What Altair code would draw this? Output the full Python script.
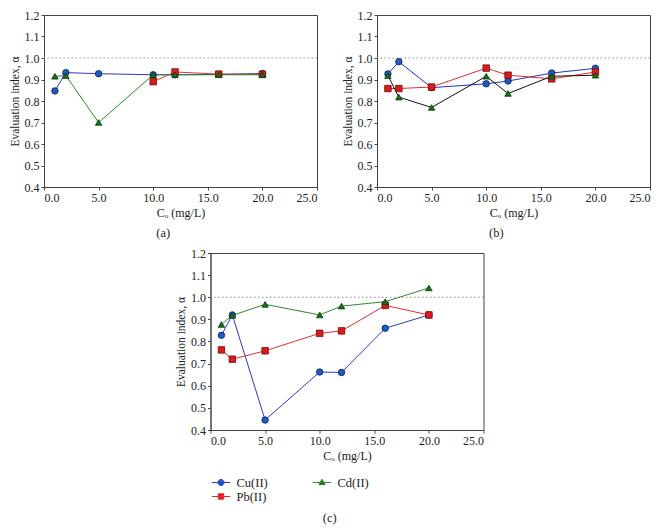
import altair as alt
import pandas as pd

# ---------------- data ----------------
METALS = ["Cu(II)", "Cd(II)", "Pb(II)"]
C0 = [1, 2, 5, 10, 12, 16, 20]
C0_PB_A = [10, 12, 16, 20]

a_cu = [0.847, 0.932, 0.927, 0.922, 0.922, 0.924, 0.928]
a_pb = [0.890, 0.935, 0.925, 0.924]
a_cd = [0.915, 0.918, 0.700, 0.922, 0.922, 0.922, 0.922]

b_cu = [0.926, 0.983, 0.862, 0.880, 0.893, 0.930, 0.952]
b_pb = [0.858, 0.858, 0.865, 0.953, 0.920, 0.903, 0.935]
b_cd = [0.918, 0.818, 0.770, 0.915, 0.835, 0.915, 0.920]

c_cu = [0.828, 0.920, 0.445, 0.662, 0.660, 0.860, 0.920]
c_pb = [0.762, 0.720, 0.758, 0.837, 0.848, 0.963, 0.920]
c_cd = [0.877, 0.918, 0.968, 0.920, 0.960, 0.980, 1.042]

REF = [1.0]
X_TICKS = [0, 5, 10, 15, 20, 25]
Y_TICKS = [0.4, 0.5, 0.6, 0.7, 0.8, 0.9, 1.0, 1.1, 1.2]

# colours in METALS order: Cu, Cd, Pb
LINE_COL = ["#2b3cc4", "#2e8b2e", "#e0302e"]
LINE_COL_B = ["#2233bb", "#111111", "#e0302e"]
FILL_COL = ["#1f5cbf", "#17701a", "#dc1c1c"]
EDGE_COL = ["#0c1f5c", "#0b3a0b", "#6e0a0a"]
SHAPES = ["circle", "triangle-up", "square"]

SERIF = "Liberation Serif"


def make_df(parts):
    rows = []
    for metal, xs, ys in parts:
        for xv, yv in zip(xs, ys):
            rows.append({"metal": metal, "C": xv, "alpha": yv})
    return pd.DataFrame(rows)


# row order Cu, Pb, Cd -> Cd markers drawn on top
df_a = make_df([("Cu(II)", C0, a_cu), ("Pb(II)", C0_PB_A, a_pb), ("Cd(II)", C0, a_cd)])
df_b = make_df([("Cu(II)", C0, b_cu), ("Pb(II)", C0, b_pb), ("Cd(II)", C0, b_cd)])
df_c = make_df([("Cu(II)", C0, c_cu), ("Pb(II)", C0, c_pb), ("Cd(II)", C0, c_cd)])

AX_STYLE = dict(labelFont=SERIF, titleFont=SERIF, labelFontSize=12,
                titleFontWeight="normal", grid=False, domainColor="#444444",
                tickColor="#444444", tickSize=3, labelColor="#222222", titleColor="#222222",
                labelPadding=2)
X_AXIS = alt.Axis(values=X_TICKS, format=".1f", title="Cₒ (mg/L)", titlePadding=4,
                  titleFontSize=12, **AX_STYLE)
Y_AXIS = alt.Axis(values=Y_TICKS, format=".1f", title="Evaluation index, α", titlePadding=4,
                  titleFontSize=11.5, **AX_STYLE)
X_SCALE = alt.Scale(domain=[0, 25], nice=False, zero=False)
Y_SCALE = alt.Scale(domain=[0.4, 1.2], nice=False, zero=False)

LEGEND_PATHS = [
    "M-1.55,0H1.55M0.5,0A0.5,0.5,0,1,1,-0.5,0A0.5,0.5,0,1,1,0.5,0Z",
    "M-1.55,0H1.55M0,-0.55L0.52,0.36H-0.52Z",
    "M-1.55,0H1.55M-0.45,-0.45H0.45V0.45H-0.45Z",
]


def legend_def():
    return alt.Legend(
        title=None, orient="none", direction="horizontal", legendX=4, legendY=223,
        columns=2, columnPadding=42, rowPadding=1, symbolSize=144, symbolStrokeWidth=1,
        symbolOpacity=1, labelFont=SERIF, labelFontSize=12.5, labelOffset=9,
        labelColor="#222",
    )


def panel(df, label, h, line_cols, with_legend=False):
    rule = alt.Chart(pd.DataFrame({"ref": REF})).mark_rule(
        color="#888888", strokeDash=[1.5, 2.5], strokeWidth=1
    ).encode(y=alt.Y("ref:Q", scale=Y_SCALE, axis=Y_AXIS))

    lines = alt.Chart(df).mark_line(strokeWidth=1).encode(
        x=alt.X("C:Q", scale=X_SCALE, axis=X_AXIS),
        y=alt.Y("alpha:Q", scale=Y_SCALE, axis=Y_AXIS),
        color=alt.Color("metal:N", scale=alt.Scale(domain=METALS, range=line_cols), legend=None),
    )

    points = alt.Chart(df).mark_point(filled=True, size=42, strokeWidth=0.8, opacity=1).encode(
        x=alt.X("C:Q", scale=X_SCALE, axis=X_AXIS),
        y=alt.Y("alpha:Q", scale=Y_SCALE, axis=Y_AXIS),
        fill=alt.Fill("metal:N", scale=alt.Scale(domain=METALS, range=FILL_COL), legend=None),
        stroke=alt.Stroke("metal:N", scale=alt.Scale(domain=METALS, range=EDGE_COL), legend=None),
        shape=alt.Shape("metal:N", scale=alt.Scale(domain=METALS, range=SHAPES), legend=None),
    )
    layers = [rule, lines, points]

    if with_legend:
        leg = alt.Chart(df).mark_point(filled=True, opacity=0).encode(
            x=alt.X("C:Q", scale=X_SCALE, axis=X_AXIS),
            y=alt.Y("alpha:Q", scale=Y_SCALE, axis=Y_AXIS),
            fill=alt.Fill("metal:N", scale=alt.Scale(domain=METALS, range=FILL_COL), legend=legend_def()),
            stroke=alt.Stroke("metal:N", scale=alt.Scale(domain=METALS, range=line_cols), legend=legend_def()),
            shape=alt.Shape("metal:N", scale=alt.Scale(domain=METALS, range=LEGEND_PATHS), legend=legend_def()),
        )
        layers.append(leg)

    ch = alt.layer(*layers).resolve_scale(
        color="independent", fill="independent", stroke="independent", shape="independent"
    ).properties(
        width=273, height=h,
        title=alt.TitleParams(label, orient="bottom", frame="bounds", anchor="middle",
                              offset=9, font=SERIF, fontSize=12.5, fontWeight="normal",
                              color="#222"),
    )
    return ch


pa = panel(df_a, "(a)", 172, LINE_COL)
pb = panel(df_b, "(b)", 172, LINE_COL_B)
pc = panel(df_c, "(c)", 177, LINE_COL, with_legend=True)

top = alt.hconcat(pa, pb, spacing=23)
chart = alt.vconcat(top, pc, spacing=6, center=True).properties(
    padding={"left": 0, "top": 0, "right": 0, "bottom": 0}
).configure_view(stroke="#444444", strokeWidth=1)

chart.save("out.html", embed_options={"renderer": "svg", "actions": False})
